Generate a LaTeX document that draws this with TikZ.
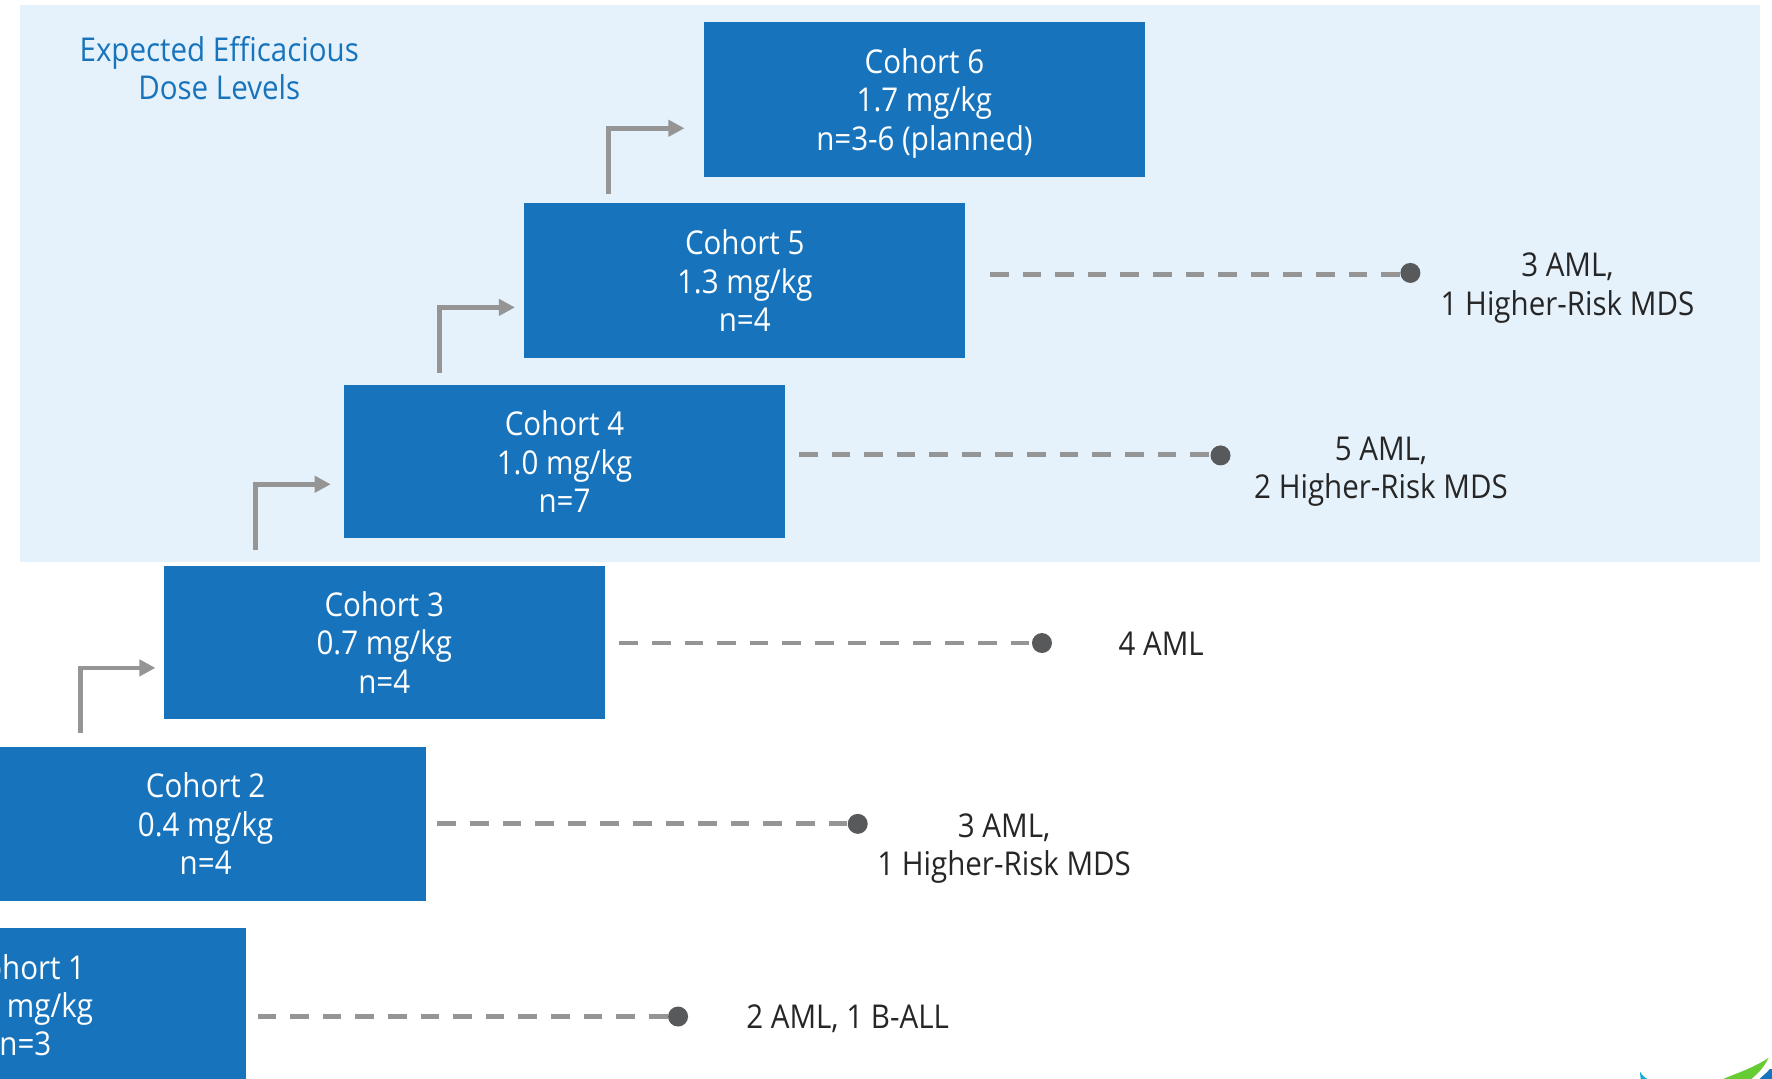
\documentclass[tikz,border=0pt]{standalone}
\usepackage{fontspec}
\setmainfont[FakeStretch=0.9]{Open Sans}
\usetikzlibrary{arrows.meta}
\definecolor{cblue}{HTML}{1774BC}
\definecolor{band}{HTML}{E5F2FB}
\definecolor{lgrey}{HTML}{959595}
\definecolor{dgrey}{HTML}{58595B}
\definecolor{txt}{HTML}{262626}
\tikzset{
  x=0.565pt,y=-0.565pt,
  cohort/.style={fill=cblue,text=white,inner sep=0pt,minimum width=220.35pt,minimum height=77.5pt,align=center,font=\fontsize{16.4}{19.2}\selectfont},
  lab/.style={text=txt,inner sep=0pt,align=center,font=\fontsize{16.4}{19.2}\selectfont},
  dotn/.style={circle,fill=dgrey,inner sep=0pt,minimum size=10pt},
  dash line/.style={draw=lgrey,line width=2.4pt,dash pattern=on 9.3pt off 7pt},
  elbow/.style={draw=lgrey,line width=2.4pt,-{Triangle[length=8pt,width=8pt]}},
}
\begin{document}
\begin{tikzpicture}
\useasboundingbox (0,0) rectangle (1568,954);
\clip (0,0) rectangle (1568,954);
\fill[band] (17.5,4) rectangle (1557,497);
\node[text=cblue,inner sep=0pt,align=center,font=\fontsize{16.4}{19.2}\selectfont] (head) at (194,60.5) {Expected Efficacious\\Dose Levels};
\node[cohort] (c6) at (818,88) {Cohort 6\\1.7 mg/kg\\\raisebox{0pt}[\height][0pt]{n=3-6 (planned)}};
\node[cohort] (c5) at (659,248.5) {Cohort 5\\1.3 mg/kg\\n=4};
\node[cohort,minimum height=76.6pt] (c4) at (499.5,408.5) {Cohort 4\\1.0 mg/kg\\n=7};
\node[cohort,minimum height=76.6pt] (c3) at (340,568.5) {Cohort 3\\0.7 mg/kg\\n=4};
\node[cohort,minimum height=76.8pt] (c2) at (182,729) {Cohort 2\\0.4 mg/kg\\n=4};
\node[cohort] (c1) at (22.5,889.5) {Cohort 1\\0.2 mg/kg\\n=3};
\coordinate (a6) at (538.5,172);
\coordinate (a5) at (389,330);
\coordinate (a4) at (226,487);
\coordinate (a3) at (71,649);
\coordinate (y6) at (0,113.5);
\coordinate (y5) at (0,272);
\coordinate (y4) at (0,428.5);
\coordinate (y3) at (0,591);
\draw[elbow,shorten >=9.6pt] (a6) |- (c6.west |- y6);
\draw[elbow,shorten >=4.5pt] (a5) |- (c5.west |- y5);
\draw[elbow,shorten >=6.5pt] (a4) |- (c4.west |- y4);
\draw[elbow,shorten >=4pt] (a3) |- (c3.west |- y3);
\node[dotn] (d5) at (1248,241.5) {};
\node[dotn] (d4) at (1080,403) {};
\node[dotn] (d3) at (922,569) {};
\node[dotn] (d2) at (759,729) {};
\node[dotn] (d1) at (600,899.5) {};
\coordinate (l5) at (876,243);
\coordinate (l4) at (707,402.5);
\coordinate (l3) at (548,569);
\coordinate (l2) at (387,729);
\coordinate (l1) at (228,899.5);
\draw[dash line] (l5) -- (l5 -| d5);
\draw[dash line] (l4) -- (l4 -| d4);
\draw[dash line] (l3) -- (l3 -| d3);
\draw[dash line] (l2) -- (l2 -| d2);
\draw[dash line] (l1) -- (l1 -| d1);
\node[lab] (t5) at (1387,255) {3 AML,\\1 Higher-Risk MDS};
\node[lab] (t4) at (1222,417.5) {5 AML,\\2 Higher-Risk MDS};
\node[lab] (t3) at (1027.5,570) {4 AML};
\node[lab] (t2) at (888.5,751) {3 AML,\\1 Higher-Risk MDS};
\node[lab] (t1) at (750,901) {2 AML, 1 B-ALL};
\fill[cblue!60!cyan] (1451,948) .. controls (1453,952) and (1456,954) .. (1460,956) -- (1452,956) -- cycle;
\fill[green!50!gray!80!yellow] (1565,936) .. controls (1550,946) and (1535,950) .. (1522,956) -- (1548,956) .. controls (1556,950) and (1561,944) .. (1565,936) -- cycle;
\fill[cblue] (1566,946) .. controls (1563,950) and (1558,953) .. (1556,956) -- (1568,956) -- (1568,946) -- cycle;
\end{tikzpicture}
\end{document}
